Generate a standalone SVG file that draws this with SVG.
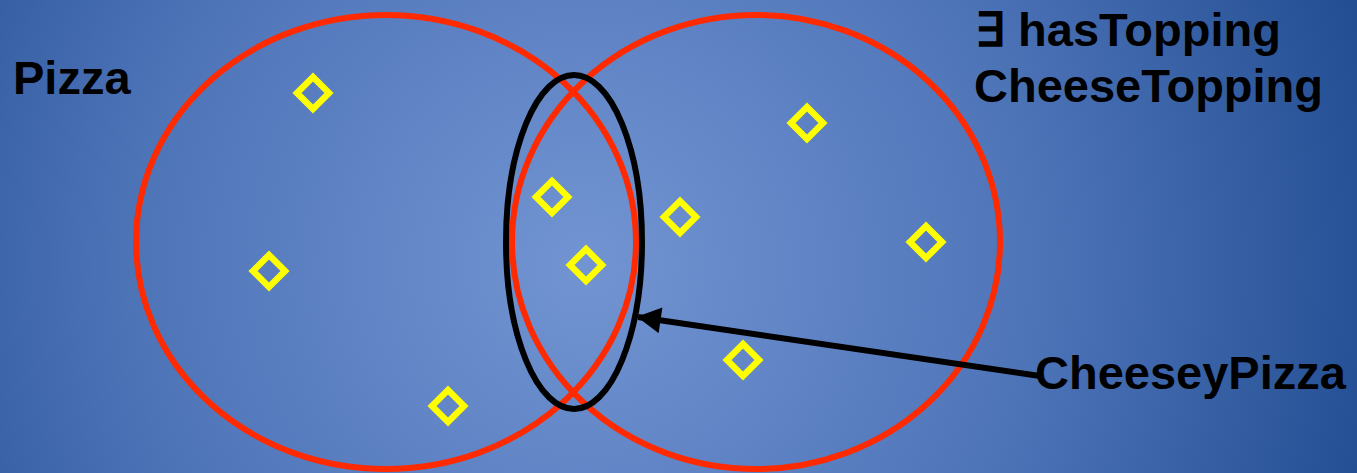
<svg xmlns="http://www.w3.org/2000/svg" width="1357" height="473" viewBox="0 0 1357 473">
<defs>
<radialGradient id="bg" gradientUnits="userSpaceOnUse" cx="585" cy="265" r="820">
<stop offset="0" stop-color="#7294d2"/>
<stop offset="0.55" stop-color="#4e74b8"/>
<stop offset="1" stop-color="#224d92"/>
</radialGradient>
<marker id="arrow" markerUnits="userSpaceOnUse" markerWidth="26" markerHeight="26" viewBox="0 0 22 24" refX="21" refY="12" orient="auto">
<path d="M0,0 L22,12 L0,24 Z" fill="#000"/>
</marker>
<path id="dia" d="M0,-16 L16,0 L0,16 L-16,0 Z"/>
</defs>
<style>
.set{fill:none;stroke:#ff2a00;stroke-width:6}
.sub{fill:none;stroke:#000;stroke-width:6}
.ind{fill:none;stroke:#ffff00;stroke-width:6.5}
.lbl{font-family:"Liberation Sans",Arial,sans-serif;font-weight:bold;font-size:47px;fill:#000}
</style>
<rect width="1357" height="473" fill="url(#bg)"/>
<g id="pizza">
<ellipse class="set" cx="386" cy="242" rx="250" ry="227"/>
<text class="lbl" x="13" y="94">Pizza</text>
</g>
<g id="hasCheeseTopping">
<ellipse class="set" cx="756" cy="242" rx="244" ry="227"/>
<text class="lbl" x="975" y="46">∃ hasTopping</text>
<text class="lbl" x="974" y="102">CheeseTopping</text>
</g>
<g id="cheeseyPizza">
<ellipse class="sub" cx="574" cy="242" rx="68" ry="167"/>
<text class="lbl" x="1035" y="389">CheeseyPizza</text>
</g>
<g id="individuals">
<use href="#dia" class="ind" x="313" y="93"/>
<use href="#dia" class="ind" x="269" y="271"/>
<use href="#dia" class="ind" x="448" y="406"/>
<use href="#dia" class="ind" x="552" y="197"/>
<use href="#dia" class="ind" x="586" y="265"/>
<use href="#dia" class="ind" x="680" y="217"/>
<use href="#dia" class="ind" x="807" y="123"/>
<use href="#dia" class="ind" x="926" y="242"/>
<use href="#dia" class="ind" x="743" y="360"/>
</g>
<g id="connectors">
<line x1="1040" y1="376" x2="638" y2="317" stroke="#000" stroke-width="6" marker-end="url(#arrow)"/>
</g>
</svg>
